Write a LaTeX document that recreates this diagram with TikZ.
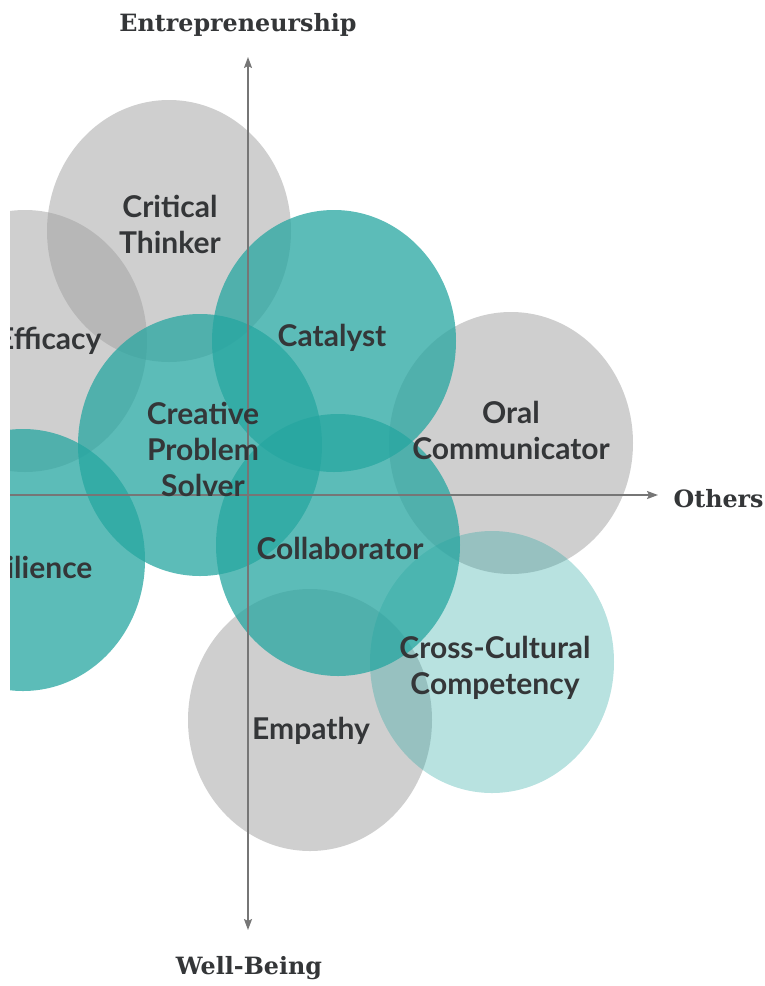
\documentclass[tikz,border=0pt]{standalone}
\usepackage{fontspec}
\setmainfont{Lato}
\newfontfamily\slabfont{DejaVu Serif}
\usetikzlibrary{arrows.meta}

\definecolor{skillgray}{RGB}{160,160,160}
\definecolor{skillteal}{RGB}{38,166,160}
\definecolor{skilltext}{RGB}{52,54,56}
\definecolor{axisgray}{RGB}{118,118,118}

\begin{document}
\begin{tikzpicture}[x=1pt,y=-1pt,
  grayskill/.style={fill=skillgray,fill opacity=0.5},
  tealskill/.style={fill=skillteal,fill opacity=0.75},
  paleskill/.style={fill=skillteal,fill opacity=0.33},
  skill/.style={text=skilltext,align=center,font=\bfseries\fontsize{30}{36}\selectfont},
  axislabel/.style={text=skilltext,font=\slabfont\bfseries\fontsize{23.8}{26}\selectfont},
  axis/.style={draw=axisgray,line width=1.8pt}]
  \def\rx{122}
  \def\ry{131}
  \useasboundingbox (0,0) rectangle (765,986);

  \coordinate (top) at (248,57);
  \coordinate (bottom) at (248,930);
  \coordinate (left) at (10,495);
  \coordinate (right) at (658,495);

  \begin{scope}
    \clip (10,0) rectangle (765,986);
    % gray circles
    \fill[grayskill] (169,231) ellipse [x radius=\rx, y radius=\ry];
    \fill[grayskill] (25,341) ellipse [x radius=\rx, y radius=\ry];
    \fill[grayskill] (511,443) ellipse [x radius=\rx, y radius=\ry];
    \fill[grayskill] (310,720) ellipse [x radius=\rx, y radius=\ry];
    % teal circles
    \fill[tealskill] (334,341) ellipse [x radius=\rx, y radius=\ry];
    \fill[tealskill] (200,445) ellipse [x radius=\rx, y radius=\ry];
    \fill[tealskill] (23,560) ellipse [x radius=\rx, y radius=\ry];
    \fill[tealskill] (338,545) ellipse [x radius=\rx, y radius=\ry];
    \fill[paleskill] (492,662) ellipse [x radius=\rx, y radius=\ry];

    \draw[axis,-{Stealth[length=11pt,width=8pt,inset=2pt]}] (left) -- (right);
    \draw[axis,{Stealth[length=11pt,width=8pt,inset=2pt]}-{Stealth[length=11pt,width=8pt,inset=2pt]}] (bottom) -- (top);

    \node[skill,anchor=east] (efficacy) at (105,341) {Efficacy};
    \node[skill,anchor=east] (resilience) at (96,567) {ilience};
  \end{scope}

  \node[skill] (critical) at (170,224) {Critical\\Thinker};
  \node[skill] (catalyst) at (332,338) {Catalyst};
  \node[skill] (oral) at (511,430) {Oral\\Communicator};
  \node[skill] (creative) at (203,449) {Creative\\Problem\\Solver};
  \node[skill] (collab) at (340,548) {Collaborator};
  \node[skill] (cross) at (495,668) {Cross-Cultural\\Competency};
  \node[skill] (empathy) at (311,731) {Empathy};

  \node[axislabel] (entre) at (238,25) {Entrepreneurship};
  \node[axislabel,anchor=west] (others) at (670,499) {Others};
  \node[axislabel] (well) at (249,968) {Well-Being};
\end{tikzpicture}
\end{document}
